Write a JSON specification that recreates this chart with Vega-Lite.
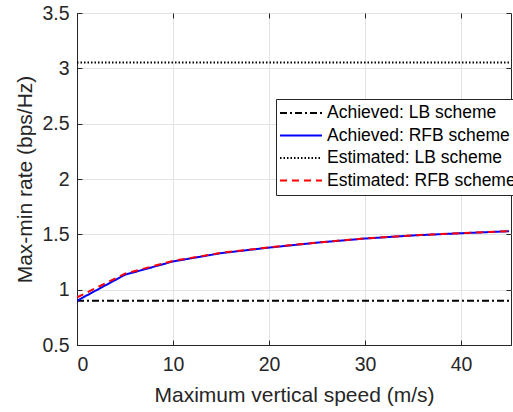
{
  "$schema": "https://vega.github.io/schema/vega-lite/v6.json",
  "width": 434,
  "height": 332,
  "autosize": "none",
  "padding": {"left": 77, "top": 13, "right": 2, "bottom": 67},
  "background": "white",
  "config": {
    "font": "Liberation Sans",
    "view": {"stroke": "#262626", "strokeWidth": 1},
    "axis": {
      "domainColor": "#262626",
      "tickColor": "#262626",
      "labelColor": "#262626",
      "titleColor": "#262626",
      "labelFont": "Liberation Sans",
      "titleFont": "Liberation Sans",
      "labelFontSize": 19.5,
      "titleFontSize": 21,
      "titleFontWeight": "normal",
      "gridColor": "#e3e3e3",
      "tickSize": -5
    }
  },
  "data": {
    "values": [
      {"v": 0, "r": 0.9, "s": "Achieved: LB scheme"},
      {"v": 45, "r": 0.9, "s": "Achieved: LB scheme"},
      {"v": 0, "r": 3.053, "s": "Estimated: LB scheme"},
      {"v": 45, "r": 3.053, "s": "Estimated: LB scheme"},
      {"v": 0, "r": 0.9, "s": "Achieved: RFB scheme"},
      {"v": 5, "r": 1.135, "s": "Achieved: RFB scheme"},
      {"v": 10, "r": 1.255, "s": "Achieved: RFB scheme"},
      {"v": 15, "r": 1.33, "s": "Achieved: RFB scheme"},
      {"v": 20, "r": 1.38, "s": "Achieved: RFB scheme"},
      {"v": 25, "r": 1.425, "s": "Achieved: RFB scheme"},
      {"v": 30, "r": 1.462, "s": "Achieved: RFB scheme"},
      {"v": 35, "r": 1.49, "s": "Achieved: RFB scheme"},
      {"v": 40, "r": 1.51, "s": "Achieved: RFB scheme"},
      {"v": 45, "r": 1.528, "s": "Achieved: RFB scheme"},
      {"v": 0, "r": 0.93, "s": "Estimated: RFB scheme"},
      {"v": 5, "r": 1.145, "s": "Estimated: RFB scheme"},
      {"v": 10, "r": 1.26, "s": "Estimated: RFB scheme"},
      {"v": 15, "r": 1.333, "s": "Estimated: RFB scheme"},
      {"v": 20, "r": 1.382, "s": "Estimated: RFB scheme"},
      {"v": 25, "r": 1.426, "s": "Estimated: RFB scheme"},
      {"v": 30, "r": 1.463, "s": "Estimated: RFB scheme"},
      {"v": 35, "r": 1.491, "s": "Estimated: RFB scheme"},
      {"v": 40, "r": 1.511, "s": "Estimated: RFB scheme"},
      {"v": 45, "r": 1.529, "s": "Estimated: RFB scheme"}
    ]
  },
  "layer": [
    {
      "mark": {"type": "line", "strokeWidth": 2, "clip": true},
      "encoding": {
        "x": {
          "field": "v", "type": "quantitative",
          "scale": {"domain": [0, 45.2], "nice": false, "zero": false},
          "axis": {"values": [0, 10, 20, 30, 40], "title": "Maximum vertical speed (m/s)", "titlePadding": 11, "labelPadding": 15}
        },
        "y": {
          "field": "r", "type": "quantitative",
          "scale": {"domain": [0.5, 3.5], "nice": false, "zero": false},
          "axis": {"values": [0.5, 1, 1.5, 2, 2.5, 3, 3.5], "format": "~g", "title": "Max-min rate (bps/Hz)", "titlePadding": 6, "labelPadding": 13}
        },
        "color": {
          "field": "s", "type": "nominal",
          "scale": {
            "domain": ["Achieved: LB scheme", "Achieved: RFB scheme", "Estimated: LB scheme", "Estimated: RFB scheme"],
            "range": ["#000000", "#0000ff", "#000000", "#ff0000"]
          },
          "legend": {
            "title": null,
            "orient": "none",
            "legendX": 199,
            "legendY": 86,
            "symbolType": "stroke",
            "symbolSize": 1764,
            "symbolStrokeWidth": 2,
            "clipHeight": 22,
            "labelFontSize": 17.5,
            "labelLimit": 300,
            "labelColor": "#000000",
            "labelFont": "Liberation Sans",
            "rowPadding": 0.5,
            "labelOffset": 4,
            "fillColor": "white",
            "strokeColor": "#262626",
            "padding": 3,
            "cornerRadius": 0
          }
        },
        "strokeDash": {
          "field": "s", "type": "nominal",
          "scale": {
            "domain": ["Achieved: LB scheme", "Achieved: RFB scheme", "Estimated: LB scheme", "Estimated: RFB scheme"],
            "range": [[7, 3, 2, 3], [1, 0], [1.5, 2], [7, 5]]
          },
          "legend": {
            "title": null,
            "orient": "none",
            "legendX": 199,
            "legendY": 86,
            "symbolType": "stroke",
            "symbolSize": 1764,
            "symbolStrokeWidth": 2,
            "clipHeight": 22,
            "labelFontSize": 17.5,
            "labelLimit": 300,
            "labelColor": "#000000",
            "labelFont": "Liberation Sans",
            "rowPadding": 0.5,
            "labelOffset": 4,
            "fillColor": "white",
            "strokeColor": "#262626",
            "padding": 3,
            "cornerRadius": 0
          }
        }
      }
    },
    {
      "mark": {"type": "line", "opacity": 0},
      "encoding": {
        "x": {"field": "v", "type": "quantitative", "axis": {"orient": "top", "values": [0, 10, 20, 30, 40], "labels": false, "title": null, "grid": false, "domain": false}},
        "y": {"field": "r", "type": "quantitative", "axis": {"orient": "right", "values": [0.5, 1, 1.5, 2, 2.5, 3, 3.5], "labels": false, "title": null, "grid": false, "domain": false}}
      }
    }
  ],
  "resolve": {"axis": {"x": "independent", "y": "independent"}}
}
